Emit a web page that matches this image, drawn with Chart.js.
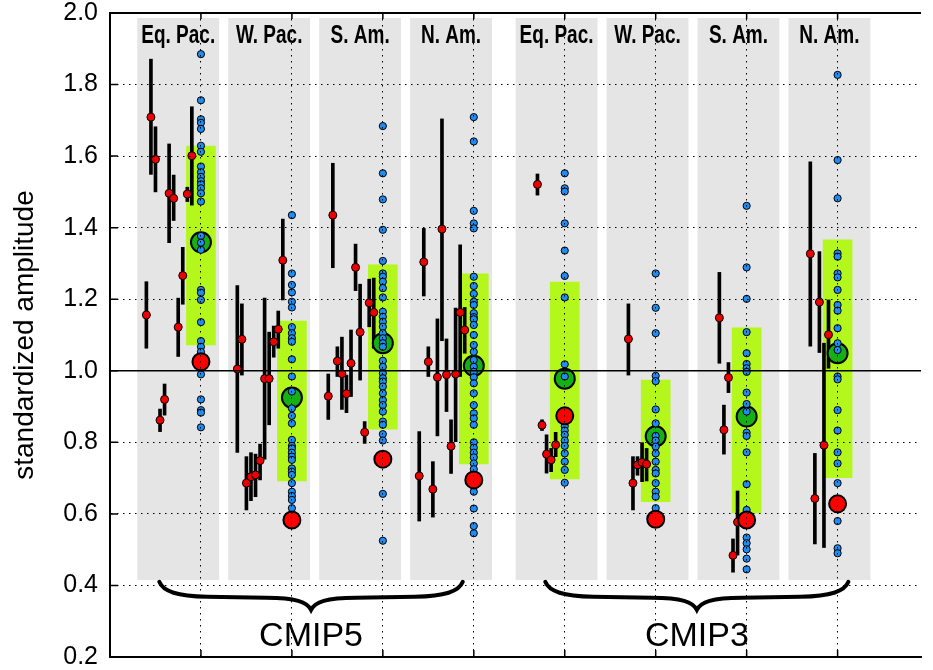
<!DOCTYPE html>
<html>
<head>
<meta charset="utf-8">
<script src="https://cdn.jsdelivr.net/npm/chart.js@4.4.1/dist/chart.umd.min.js"></script>
<style>html,body{margin:0;padding:0;background:#fff}</style>
</head>
<body>
<canvas id="chart" width="933" height="670"></canvas>
<script>
// regions and model generations
const regions = ['Eq. Pac.', 'W. Pac.', 'S. Am.', 'N. Am.', 'Eq. Pac.', 'W. Pac.', 'S. Am.', 'N. Am.'];
const groups = ['CMIP5', 'CMIP3'];
const panelTicks = [1, 2, 3, 4, 5, 6, 7, 8];
const yTicks = [0.2, 0.4, 0.6, 0.8, 1.0, 1.2, 1.4, 1.6, 1.8, 2.0];

// observational estimates (red dots) with their ranges
const obsValue = [
    [1.156, 1.709, 1.591, 0.862, 0.920, 1.496, 1.482, 1.122, 1.266, 1.494, 1.601],
    [1.005, 1.088, 0.686, 0.704, 0.709, 0.749, 0.978, 0.978, 1.081, 1.116, 1.309],
    [0.929, 1.435, 1.027, 0.992, 0.936, 1.021, 1.289, 1.108, 0.828, 1.190, 1.163],
    [0.706, 1.304, 1.025, 0.669, 0.982, 1.396, 0.989, 0.789, 0.991, 1.163, 1.114],
    [1.521, 0.848, 0.767, 0.751, 0.793],
    [1.089, 0.686, 0.737, 0.744, 0.739],
    [1.148, 0.835, 0.981, 0.484, 0.577],
    [1.327, 0.643, 1.192, 0.792, 1.101]
];
const obsLow = [
    [1.063, 1.549, 1.500, 0.830, 0.876, 1.358, 1.420, 1.040, 1.186, 1.473, 1.463],
    [0.772, 0.988, 0.611, 0.637, 0.648, 0.695, 0.753, 0.849, 1.038, 1.063, 1.198],
    [0.864, 1.288, 0.984, 0.892, 0.883, 0.928, 1.224, 0.974, 0.797, 1.123, 1.063],
    [0.580, 1.209, 0.984, 0.591, 0.818, 1.084, 0.886, 0.713, 0.802, 0.984, 1.049],
    [1.491, 0.833, 0.714, 0.718, 0.760],
    [0.988, 0.611, 0.708, 0.690, 0.692],
    [1.021, 0.767, 0.939, 0.437, 0.485],
    [1.069, 0.516, 1.051, 0.506, 1.007]
];
const obsHigh = [
    [1.249, 1.871, 1.682, 0.893, 0.963, 1.634, 1.547, 1.203, 1.345, 1.513, 1.738],
    [1.238, 1.187, 0.760, 0.771, 0.767, 0.795, 1.203, 1.108, 1.125, 1.167, 1.424],
    [0.991, 1.580, 1.067, 1.094, 0.988, 1.114, 1.354, 1.242, 0.858, 1.256, 1.259],
    [0.830, 1.398, 1.067, 0.746, 1.145, 1.704, 1.089, 0.863, 1.175, 1.352, 1.177],
    [1.550, 0.863, 0.821, 0.783, 0.828],
    [1.187, 0.760, 0.760, 0.799, 0.783],
    [1.275, 0.904, 1.023, 0.530, 0.664],
    [1.584, 0.769, 1.333, 1.077, 1.198]
];

// individual models (blue dots)
const modelAmp = [
    [1.885, 1.756, 1.703, 1.693, 1.676, 1.629, 1.612, 1.571, 1.555, 1.542, 1.530, 1.521, 1.510, 1.496, 1.473, 1.377, 1.358, 1.338, 1.226, 1.218, 1.198, 1.136, 1.083, 1.067, 1.053, 0.990, 0.920, 0.890, 0.883, 0.842],
    [1.435, 1.272, 1.240, 1.219, 1.193, 1.177, 1.122, 1.105, 1.091, 1.081, 1.032, 0.984, 0.942, 0.895, 0.874, 0.853, 0.807, 0.790, 0.783, 0.771, 0.760, 0.751, 0.727, 0.718, 0.709, 0.686, 0.662, 0.650, 0.639, 0.616],
    [1.684, 1.552, 1.479, 1.394, 1.307, 1.272, 1.263, 1.249, 1.231, 1.205, 1.165, 1.151, 1.137, 1.123, 1.105, 1.091, 1.077, 1.067, 1.028, 1.011, 0.993, 0.979, 0.970, 0.956, 0.937, 0.918, 0.904, 0.886, 0.858, 0.849, 0.823, 0.805, 0.656, 0.525],
    [1.709, 1.641, 1.447, 1.412, 1.398, 1.263, 1.237, 1.215, 1.193, 1.184, 1.161, 1.150, 1.144, 1.128, 1.100, 1.072, 1.053, 1.030, 1.011, 0.997, 0.982, 0.965, 0.937, 0.904, 0.881, 0.867, 0.849, 0.800, 0.785, 0.771, 0.758, 0.741, 0.725, 0.662, 0.615, 0.566, 0.546],
    [1.552, 1.510, 1.501, 1.412, 1.336, 1.265, 1.205, 1.018, 0.984, 0.858, 0.845, 0.833, 0.821, 0.805, 0.790, 0.769, 0.746, 0.723, 0.687],
    [1.272, 1.176, 1.105, 0.986, 0.971, 0.892, 0.853, 0.818, 0.805, 0.788, 0.769, 0.746, 0.723, 0.713, 0.686, 0.662, 0.648, 0.616],
    [1.461, 1.289, 1.201, 1.108, 1.049, 1.019, 1.007, 0.997, 0.939, 0.907, 0.886, 0.827, 0.818, 0.772, 0.683, 0.611, 0.534, 0.518, 0.501, 0.475, 0.445],
    [1.827, 1.589, 1.482, 1.328, 1.319, 1.272, 1.261, 1.226, 1.184, 1.168, 1.119, 1.077, 1.058, 0.984, 0.976, 0.890, 0.833, 0.772, 0.741, 0.686, 0.580, 0.504, 0.490]
];

// ensemble spread (green box), ensemble mean (green circle), reference (big red)
const spreadLow = [1.072, 0.692, 0.837, 0.740, 0.698, 0.634, 0.603, 0.701];
const spreadHigh = [1.628, 1.139, 1.296, 1.271, 1.248, 0.974, 1.120, 1.366];
const ensMean = [1.359, 0.925, 1.077, 1.014, 0.978, 0.817, 0.872, 1.049];
const refAmp = [1.025, 0.583, 0.753, 0.695, 0.874, 0.585, 0.583, 0.628];

// layout (axis units)
const panelSpan5 = [-0.70, 0.20];
const panelSpan3 = [-0.54, 0.36];
const braceSpan = [[0.542, 3.879], [4.786, 8.119]];

const obsPoints = [], obsBars = [], modelPoints = [];
panelTicks.forEach((t, p) => {
    const n = obsValue[p].length;
    obsValue[p].forEach((v, j) => {
        const xi = t - 0.1 - 0.05 * (n - 1 - j);
        obsPoints.push({x: xi, y: v});
        obsBars.push({x: xi, y: [obsLow[p][j], obsHigh[p][j]]});
    });
    modelAmp[p].forEach(v => modelPoints.push({x: t, y: v}));
});

const decor = {
    id: 'decor',
    beforeDraw(chart) {
        const {ctx, scales: {x, y}} = chart;
        ctx.save();
        const top = y.getPixelForValue(1.986), bot = y.getPixelForValue(0.415);
        panelTicks.forEach((t, i) => {
            const g = i < 4 ? panelSpan5 : panelSpan3;
            const l = x.getPixelForValue(t + g[0]), r = x.getPixelForValue(t + g[1]);
            ctx.fillStyle = '#e5e5e5';
            ctx.fillRect(l, top, r - l, bot - top);
            ctx.save();
            ctx.translate((l + r) / 2, 43);
            ctx.scale(0.76, 1);
            ctx.fillStyle = '#000';
            ctx.font = 'bold 25px "Liberation Sans"';
            ctx.textAlign = 'center';
            ctx.fillText(regions[i], 0, 0);
            ctx.restore();
        });
        ctx.restore();
    },
    afterDraw(chart) {
        const {ctx, chartArea: a, scales: {x, y}} = chart;
        ctx.save();
        ctx.strokeStyle = '#000';
        ctx.lineWidth = 2;
        ctx.beginPath();
        ctx.moveTo(a.left, a.top);
        ctx.lineTo(a.right, a.top);
        ctx.stroke();
        // inward ticks
        ctx.lineWidth = 1.5;
        ctx.beginPath();
        yTicks.forEach(v => {
            const py = y.getPixelForValue(v);
            ctx.moveTo(a.left, py);
            ctx.lineTo(a.left + 8, py);
        });
        panelTicks.forEach(t => {
            const px = x.getPixelForValue(t);
            ctx.moveTo(px, a.bottom);
            ctx.lineTo(px, a.bottom - 7);
            ctx.moveTo(px, a.top);
            ctx.lineTo(px, a.top + 6);
        });
        ctx.stroke();
        // braces
        const y0 = y.getPixelForValue(0.41);
        ctx.lineWidth = 4;
        ctx.lineCap = 'round';
        braceSpan.forEach((s, k) => {
            const x0 = x.getPixelForValue(s[0]), x1 = x.getPixelForValue(s[1]);
            const xm = (x0 + x1) / 2;
            ctx.beginPath();
            ctx.moveTo(x0, y0);
            ctx.bezierCurveTo(x0 + 4, y0 + 10, x0 + 18, y0 + 14, x0 + 48, y0 + 15);
            ctx.lineTo(xm - 45, y0 + 16);
            ctx.bezierCurveTo(xm - 15, y0 + 16, xm - 4, y0 + 20, xm, y0 + 28);
            ctx.bezierCurveTo(xm + 4, y0 + 20, xm + 15, y0 + 16, xm + 45, y0 + 16);
            ctx.lineTo(x1 - 48, y0 + 15);
            ctx.bezierCurveTo(x1 - 18, y0 + 14, x1 - 4, y0 + 10, x1, y0);
            ctx.stroke();
            ctx.fillStyle = '#000';
            ctx.font = '34px "Liberation Sans"';
            ctx.textAlign = 'center';
            ctx.fillText(groups[k], xm, 646);
        });
        ctx.restore();
    }
};

const gridOpts = {color: '#000', lineWidth: 1, drawTicks: false, offset: false, z: 1};
const borderOpts = {display: true, color: '#000', width: 2, dash: [1.5, 4.5], z: 1};

new Chart(document.getElementById('chart'), {
    type: 'scatter',
    data: {
        datasets: [
            {
                type: 'line', data: [{x: 0, y: 1}, {x: 8.917, y: 1}],
                borderColor: '#000', borderWidth: 1.5, pointRadius: 0, order: -1
            },
            {
                data: panelTicks.map((t, i) => ({x: t, y: refAmp[i]})),
                backgroundColor: '#ff0000', borderColor: '#000', borderWidth: 2, pointRadius: 8.5, order: 0
            },
            {
                data: modelPoints,
                backgroundColor: '#1e8cf5', borderColor: '#000', borderWidth: 1, pointRadius: 3.6, order: 1
            },
            {
                data: panelTicks.map((t, i) => ({x: t, y: ensMean[i]})),
                backgroundColor: '#14b014', borderColor: '#000', borderWidth: 2, pointRadius: 10, order: 2
            },
            {
                data: obsPoints,
                backgroundColor: '#ee0000', borderColor: '#000', borderWidth: 1, pointRadius: 4, order: 3
            },
            {
                type: 'bar', data: obsBars, backgroundColor: '#000', barThickness: 3,
                grouped: false, borderWidth: 0, order: 4
            },
            {
                type: 'bar', data: panelTicks.map((t, i) => ({x: t, y: [spreadLow[i], spreadHigh[i]]})),
                backgroundColor: '#b4f71c', barThickness: 29, grouped: false, borderWidth: 0, order: 5
            }
        ]
    },
    options: {
        responsive: false,
        animation: false,
        devicePixelRatio: 1,
        layout: {padding: {top: 13, right: 0, bottom: 0, left: 0}},
        plugins: {legend: {display: false}, tooltip: {enabled: false}},
        scales: {
            x: {
                type: 'linear', min: 0, max: 8.917, offset: false,
                ticks: {display: false, stepSize: 1, includeBounds: false},
                grid: gridOpts, border: borderOpts,
                afterFit: s => { s.height = 13; s.paddingLeft = 0; s.paddingRight = 0; }
            },
            y: {
                type: 'linear', min: 0.2, max: 2.0,
                afterBuildTicks: s => { s.ticks = yTicks.map(v => ({value: v})); },
                ticks: {
                    color: '#000', padding: 12,
                    font: {family: 'Liberation Sans', size: 25},
                    callback: v => v.toFixed(1)
                },
                title: {
                    display: true, text: 'standardized amplitude', color: '#000',
                    font: {family: 'Liberation Sans', size: 28}, padding: {top: 8, bottom: 0}
                },
                grid: gridOpts, border: borderOpts,
                afterFit: s => { s.width = 110; s.paddingTop = 0; s.paddingBottom = 0; }
            }
        }
    },
    plugins: [decor]
});
</script>
</body>
</html>
